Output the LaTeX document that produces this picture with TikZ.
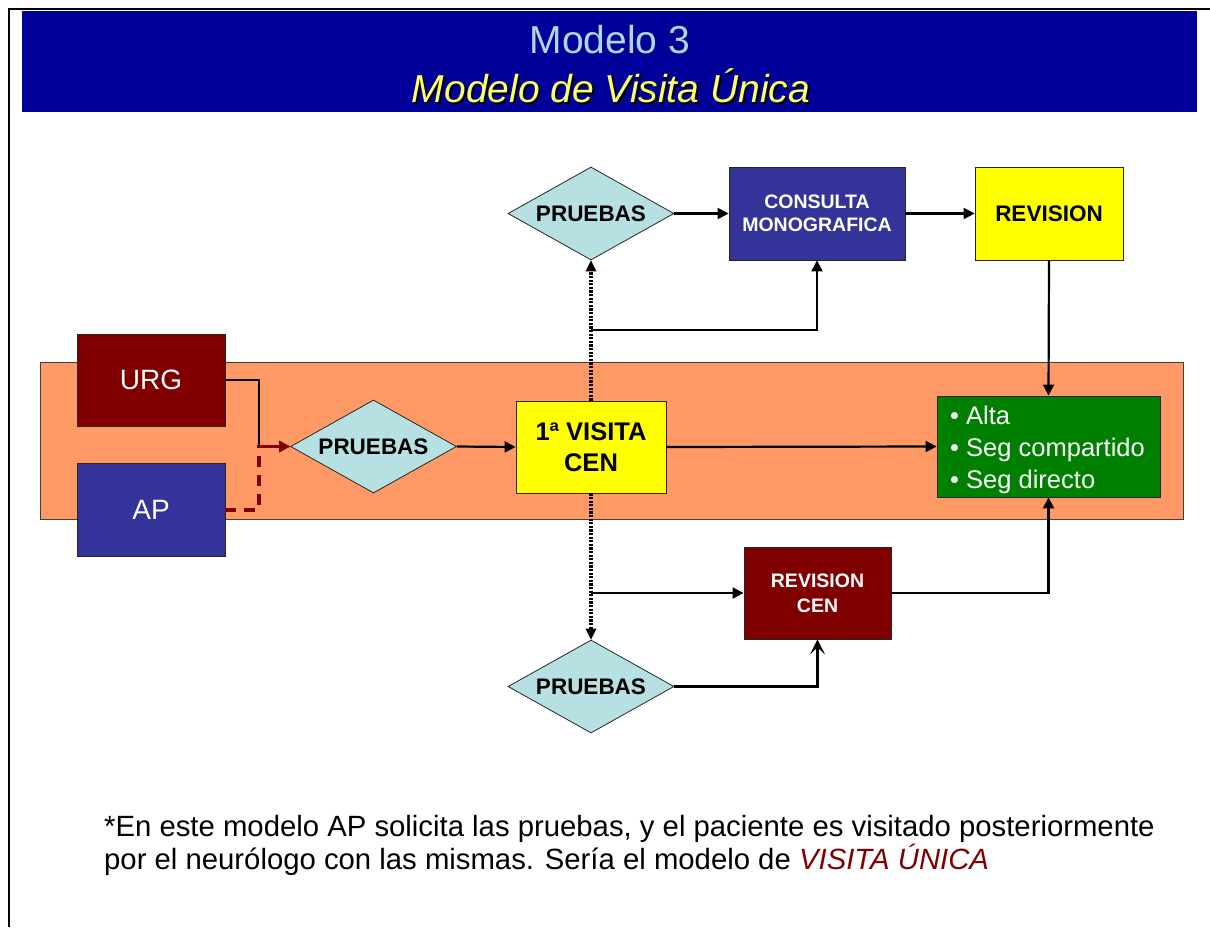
\documentclass[tikz,border=0pt]{standalone}
\usepackage{fontspec}
\setmainfont{Liberation Sans}
\usetikzlibrary{shapes.geometric,arrows.meta}
\definecolor{titleblue}{RGB}{0,0,153}
\definecolor{lightcyan}{RGB}{173,216,230}
\definecolor{titleyellow}{RGB}{255,255,102}
\definecolor{bandorange}{RGB}{255,153,102}
\definecolor{darkred}{RGB}{128,0,0}
\definecolor{boxblue}{RGB}{51,51,153}
\definecolor{boxgreen}{RGB}{0,128,0}
\definecolor{boxyellow}{RGB}{255,255,0}
\definecolor{diafill}{RGB}{183,224,227}
\begin{document}
\begin{tikzpicture}[x=1pt,y=-1pt,
  box/.style={draw=black!85,line width=0.8pt,inner sep=0pt,align=center},
  dia/.style={diamond,shape aspect=1.8,draw=black!85,line width=0.8pt,fill=diafill,inner sep=0pt,
    minimum width=166pt,minimum height=93pt,font=\fontsize{22.5}{26}\selectfont\bfseries},
  tip/.style={-{Triangle[length=11pt,width=11pt]}},
  arr/.style={line width=2.2pt,tip},
  plain/.style={line width=2.2pt},
  dots/.style={line width=3.2pt,dash pattern=on 2.2pt off 1.4pt,-{Triangle[length=11pt,width=11pt,line width=0pt]}},
  apdash/.style={line width=4pt,dash pattern=on 11pt off 8pt,draw=darkred}]
\useasboundingbox (0,0) rectangle (1210,927);
% frame
\draw[line width=2.5pt] (9,927) -- (9,9) -- (1210,9);
% title band
\fill[titleblue] (22,10.5) rectangle (1197,112);
\node[text=lightcyan,font=\fontsize{39}{46}\selectfont] (t1) at (610,40) {Modelo 3};
\node[text=black,font=\fontsize{39}{46}\selectfont\itshape] (t2s) at (613,88) {Modelo de Visita Única};
\node[text=titleyellow,font=\fontsize{39}{46}\selectfont\itshape] (t2) at (611,86) {Modelo de Visita Única};
% orange band
\filldraw[fill=bandorange,draw=black!75,line width=0.8pt] (40,362) rectangle (1183,519);
% nodes
\node[box,fill=darkred,text=white,minimum width=148pt,minimum height=92pt,font=\fontsize{28}{32}\selectfont] (URG) at (151,380) {URG};
\node[box,fill=boxblue,text=white,minimum width=148pt,minimum height=93pt,font=\fontsize{28}{32}\selectfont] (AP) at (151,509.5) {AP};
\node[dia] (PL) at (373.5,446.5) {PRUEBAS};
\node[box,fill=boxyellow,minimum width=150pt,minimum height=92pt,font=\fontsize{25.5}{31}\selectfont\bfseries] (VIS) at (591,447) {1ª VISITA\\CEN};
\node[box,fill=boxgreen,minimum width=223pt,minimum height=101pt] (G) at (1048.5,446.5) {};
\node[anchor=west,align=left,inner sep=0pt,text=white,font=\fontsize{25.5}{32}\selectfont] (Gt) at (950,450) {• Alta\\• Seg compartido\\• Seg directo};
\node[dia] (PT) at (591,213.5) {PRUEBAS};
\node[box,fill=boxblue,text=white,minimum width=176pt,minimum height=93pt,font=\fontsize{19.5}{23}\selectfont\bfseries] (CM) at (817,213.5) {CONSULTA\\MONOGRAFICA};
\node[box,fill=boxyellow,minimum width=148pt,minimum height=93pt,font=\fontsize{22.5}{26}\selectfont\bfseries] (RV) at (1049,213.5) {REVISION};
\node[box,fill=darkred,text=white,minimum width=147pt,minimum height=92pt,font=\fontsize{19.5}{25}\selectfont\bfseries] (RC) at (817.5,593) {REVISION\\CEN};
\node[dia] (PB) at (591,686.5) {PRUEBAS};
% junctions
\coordinate (j) at (259,446.5);
\coordinate (b1) at (591,330);
\coordinate (b2) at (591,593);
% connectors
\draw[plain] (URG.east) -| (j);
\draw[arr] (j) -- (PL.west);
\draw[apdash] (AP.east) -| (j);
\draw[apdash,line width=3.5pt,dash pattern=on 20pt off 0pt,tip] ([xshift=-2pt]j) -- (PL.west);
\draw[arr] (PL.east) -- (VIS.west);
\draw[arr] (VIS.east) -- (G.west);
\draw[dots] (VIS.north) -- (PT.south);
\draw[arr] (b1) -| (CM.south);
\draw[arr] (PT.east) -- (CM.west);
\draw[arr] (CM.east) -- (RV.west);
\draw[arr] (RV.south) -- (G.north);
\draw[dots] (VIS.south) -- (PB.north);
\draw[arr] (b2) -- (RC.west);
\draw[arr] (RC.east) -| (G.south);
\draw[line width=2.2pt,-{Stealth[length=15pt,width=15pt,inset=7pt]}] (PB.east) -| (RC.south);
% footnote
\node[anchor=base west,inner sep=0pt,font=\fontsize{29.3}{34}\selectfont] (f1) at (104,836) {*En este modelo AP solicita las pruebas, y el paciente es visitado posteriormente};
\node[anchor=base west,inner sep=0pt,font=\fontsize{29.3}{34}\selectfont] (f2) at (104,869) {por el neurólogo con las mismas. Sería el modelo de \textcolor{darkred}{\itshape VISITA ÚNICA}};
\end{tikzpicture}
\end{document}
